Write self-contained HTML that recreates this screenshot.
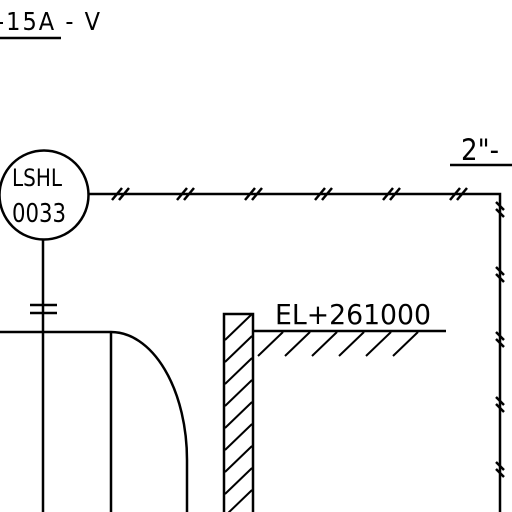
<!DOCTYPE html>
<html><head><meta charset="utf-8"><style>
html,body{margin:0;padding:0;background:#fff;width:512px;height:512px;overflow:hidden}
svg{display:block}
svg text{font-family:"DejaVu Sans Condensed","Liberation Sans",sans-serif;fill:#000;font-weight:300}
</style></head><body>
<svg width="512" height="512" viewBox="0 0 512 512" xmlns="http://www.w3.org/2000/svg">
<g stroke="#000" stroke-width="2.5" fill="none">
  <text x="-4" y="30" font-size="25" textLength="104" lengthAdjust="spacing" stroke="none">-15A - V</text>
  <line x1="0" y1="38" x2="61" y2="38"/>
  <text x="461" y="160" font-size="29" stroke="none">2"-</text>
  <line x1="450" y1="165" x2="512" y2="165"/>
  <circle cx="44" cy="195" r="44.5"/>
  <text x="12" y="186" font-size="24" textLength="50" lengthAdjust="spacingAndGlyphs" stroke="none">LSHL</text>
  <text x="12" y="222" font-size="26" textLength="54" lengthAdjust="spacingAndGlyphs" stroke="none">0033</text>
  <path d="M89 194 H500 V512"/>
  <g id="ticks"></g>
  <line x1="43" y1="240" x2="43" y2="512"/>
  <line x1="30" y1="305" x2="57" y2="305"/>
  <line x1="30" y1="313" x2="57" y2="313"/>
  <line x1="0" y1="332" x2="111" y2="332"/>
  <line x1="111" y1="332" x2="111" y2="512"/>
  <path d="M111 332 A76 128 0 0 1 187 460 L187 512"/>
  <path d="M224 512 V314 H253 V512"/>
  <g id="wallhatch" stroke-width="2"></g>
  <line x1="253" y1="331" x2="446" y2="331"/>
  <g id="elhatch" stroke-width="2"></g>
  <text x="275" y="324" font-size="28" textLength="156" lengthAdjust="spacingAndGlyphs" stroke="none">EL+261000</text>
</g>
<script>
const ns="http://www.w3.org/2000/svg";
function ln(g,x1,y1,x2,y2){const l=document.createElementNS(ns,"line");l.setAttribute("x1",x1);l.setAttribute("y1",y1);l.setAttribute("x2",x2);l.setAttribute("y2",y2);g.appendChild(l);return l;}
const t=document.getElementById("ticks");
[122,187,255,325,393,460].forEach(x=>{ln(t,x-10,200,x,188);ln(t,x-3,200,x+7,188);});
[210,275,340,405,470].forEach(y=>{ln(t,496,y-8,504,y);ln(t,496,y-1,504,y+7);});
const w=document.getElementById("wallhatch");
for(let y=340;y<530;y+=22){ln(w,225,y,252,y-26);}
const e=document.getElementById("elhatch");
for(let x=283;x<=440;x+=27){ln(e,x-25,356,x,332);}
</script>
</svg>
</body></html>
